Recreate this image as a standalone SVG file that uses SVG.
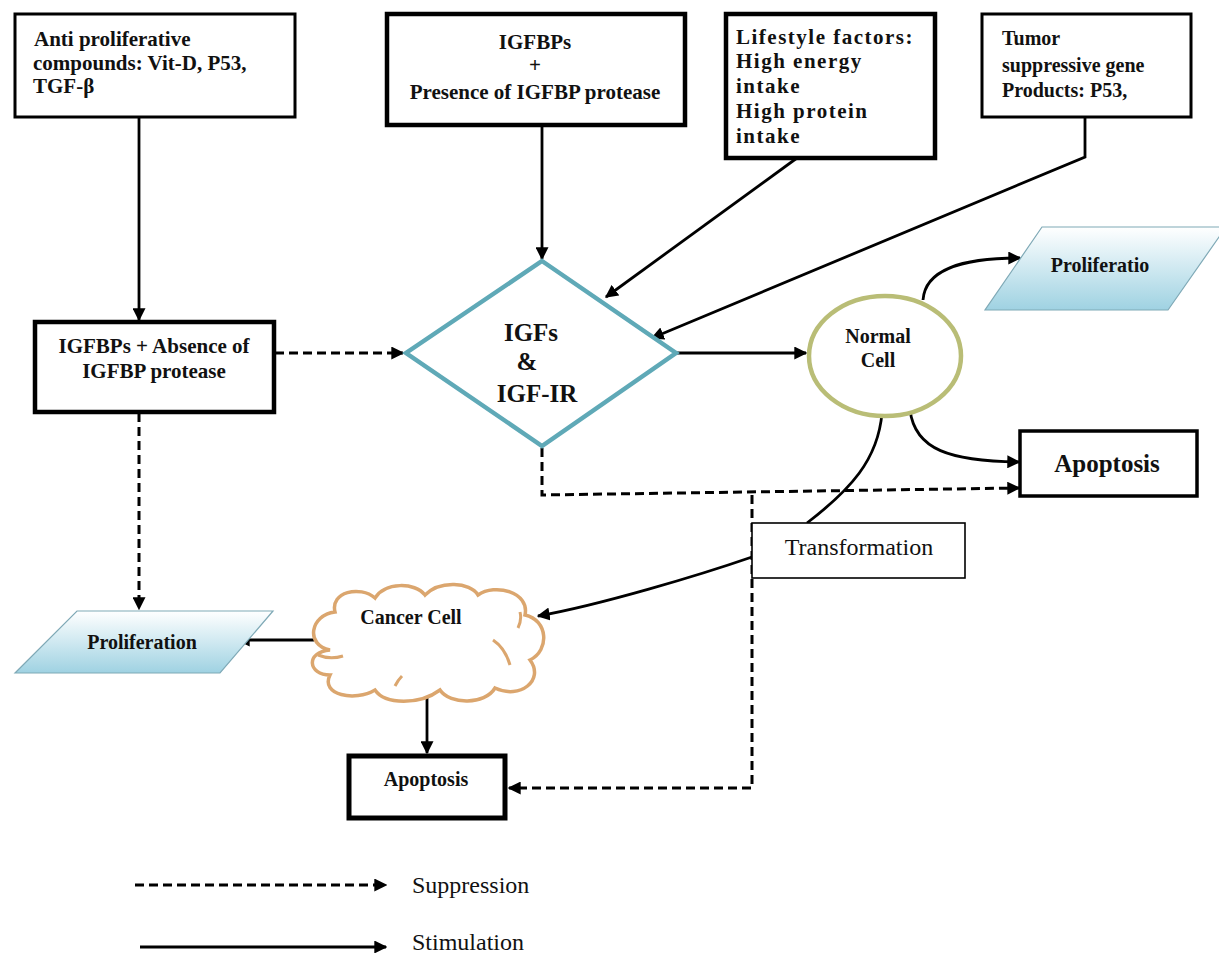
<svg xmlns="http://www.w3.org/2000/svg" width="1219" height="953" viewBox="0 0 1219 953">
<defs>
<marker id="ah" viewBox="0 0 10 10" refX="9" refY="5" markerWidth="13" markerHeight="13" markerUnits="userSpaceOnUse" orient="auto"><path d="M0,0 L10,5 L0,10 z" fill="#000"/></marker>
<linearGradient id="blue" x1="0" y1="0" x2="0" y2="1"><stop offset="0" stop-color="#ffffff"/><stop offset="1" stop-color="#9fd2e2"/></linearGradient>
</defs>
<style>
text{font-family:"Liberation Serif","Times New Roman",serif;fill:#111}
.b{font-weight:bold;font-size:20px}
.b21{font-weight:bold;font-size:21px}
.r{font-size:24px}
.box{fill:#fff;stroke:#000}
.ln{fill:none;stroke:#000;stroke-width:2.8}
.ds{fill:none;stroke:#000;stroke-width:3;stroke-dasharray:9 5}
.para{fill:url(#blue);stroke:#7fa9b6;stroke-width:1.2}
</style>
<rect width="1219" height="953" fill="#fff"/>

<g id="connectors">
<line class="ln" x1="139" y1="117" x2="139" y2="320" marker-end="url(#ah)"/>
<line class="ln" x1="542" y1="125" x2="542" y2="259" marker-end="url(#ah)"/>
<line class="ln" x1="797" y1="158" x2="606" y2="297" marker-end="url(#ah)"/>
<polyline class="ln" points="1085,117 1085,157 652,338" marker-end="url(#ah)"/>
<line class="ds" x1="275" y1="353" x2="403" y2="353" marker-end="url(#ah)"/>
<line class="ln" x1="676" y1="353" x2="806" y2="353" marker-end="url(#ah)"/>
<path class="ln" d="M923,300 C925,270 960,258 1020,258" marker-end="url(#ah)"/>
<path class="ln" d="M910,410 C915,450 950,461 1019,462" marker-end="url(#ah)"/>
<polyline class="ds" points="542,448 542,495 1019,488" marker-end="url(#ah)"/>
<path class="ln" d="M882,413 C878,460 850,490 807,523"/>
<path class="ln" d="M752,557 C700,575 600,605 538,616" marker-end="url(#ah)"/>
<line class="ds" x1="139" y1="413" x2="139" y2="609" marker-end="url(#ah)"/>
<line class="ln" x1="314" y1="640" x2="238" y2="640" marker-end="url(#ah)"/>
<line class="ln" x1="427" y1="698" x2="427" y2="753" marker-end="url(#ah)"/>
<polyline class="ds" points="752,495 752,788 509,788" marker-end="url(#ah)"/>
</g>

<g id="anti">
<rect class="box" x="15" y="14" width="280" height="103" stroke-width="3"/>
<text class="b21" x="34" y="46">Anti proliferative</text>
<text class="b21" x="33" y="70">compounds: Vit-D, P53,</text>
<text class="b21" x="33" y="93">TGF-β</text>
</g>

<g id="igfbp-presence">
<rect class="box" x="387" y="14" width="298" height="111" stroke-width="4.5"/>
<text class="b21" x="535" y="49" text-anchor="middle">IGFBPs</text>
<text class="b21" x="535" y="72" text-anchor="middle">+</text>
<text class="b21" x="535" y="99" text-anchor="middle">Presence of IGFBP protease</text>
</g>

<g id="lifestyle">
<rect class="box" x="726" y="14" width="209" height="144" stroke-width="4.5"/>
<g letter-spacing="1.5">
<text class="b21" x="736" y="44">Lifestyle factors:</text>
<text class="b21" x="736" y="68">High energy</text>
<text class="b21" x="736" y="93">intake</text>
<text class="b21" x="736" y="118">High protein</text>
<text class="b21" x="736" y="143">intake</text>
</g>
</g>

<g id="tumor">
<rect class="box" x="982" y="14" width="209" height="103" stroke-width="3"/>
<text class="b" x="1002" y="45">Tumor</text>
<text class="b" x="1002" y="72">suppressive gene</text>
<text class="b" x="1002" y="97">Products: P53,</text>
</g>

<g id="igfbp-absence">
<rect class="box" x="35" y="322" width="239" height="90" stroke-width="4.5"/>
<text class="b21" x="154" y="353" text-anchor="middle">IGFBPs + Absence of</text>
<text class="b21" x="154" y="378" text-anchor="middle">IGFBP protease</text>
</g>

<g id="igf">
<polygon points="542,261 676,353 542,446 406,353" fill="#fff" stroke="#5fa9b7" stroke-width="4.5"/>
<text x="531" y="341" text-anchor="middle" font-size="25" font-weight="bold">IGFs</text>
<text x="527" y="370" text-anchor="middle" font-size="25" font-weight="bold">&amp;</text>
<text x="537" y="402" text-anchor="middle" font-size="25" font-weight="bold">IGF-IR</text>
</g>

<g id="normal-cell">
<ellipse cx="885" cy="356" rx="76" ry="60" fill="#fff" stroke="#b9bd76" stroke-width="4.5"/>
<text class="b" x="878" y="343" text-anchor="middle">Normal</text>
<text class="b" x="878" y="367" text-anchor="middle">Cell</text>
</g>

<g id="proliferation-right">
<polygon class="para" points="1042,227 1226,227 1168,310 985,310"/>
<text class="b" x="1100" y="272" text-anchor="middle">Proliferatio</text>
</g>

<g id="apoptosis-right">
<rect class="box" x="1020" y="431" width="177" height="65" stroke-width="3.5"/>
<text x="1107" y="472" text-anchor="middle" font-size="25" font-weight="bold">Apoptosis</text>
</g>

<g id="transformation">
<rect class="box" x="752" y="523" width="213" height="55" stroke-width="1.6"/>
<text class="r" x="859" y="555" text-anchor="middle">Transformation</text>
</g>

<g id="cancer-cell">
<path d="M330,650 C305,645 310,615 335,612 C330,592 360,585 375,598 C385,582 415,582 425,595 C440,580 470,582 478,595 C495,583 530,592 525,615 C548,620 550,650 530,660 C545,680 520,700 495,688 C485,705 450,705 440,690 C420,705 385,705 375,690 C355,702 320,695 330,675 C308,675 305,652 330,650 Z" fill="#fff" stroke="#dba66e" stroke-width="3.5"/>
<path d="M318,655 Q330,660 343,656 M493,640 Q505,648 510,665 M395,686 Q398,680 402,676 M520,612 Q522,620 518,628" fill="none" stroke="#dba66e" stroke-width="3"/>
<text class="b" x="411" y="624" text-anchor="middle">Cancer Cell</text>
</g>

<g id="proliferation-left">
<polygon class="para" points="77,611 273,611 220,673 15,673"/>
<text class="b" x="142" y="649" text-anchor="middle">Proliferation</text>
</g>

<g id="apoptosis-bottom">
<rect class="box" x="349" y="756" width="156" height="62" stroke-width="5"/>
<text class="b" x="426" y="786" text-anchor="middle">Apoptosis</text>
</g>

<g id="legend">
<line class="ds" x1="135" y1="885" x2="386" y2="885" marker-end="url(#ah)"/>
<text class="r" x="412" y="893">Suppression</text>
<line class="ln" x1="140" y1="947" x2="386" y2="947" marker-end="url(#ah)"/>
<text class="r" x="412" y="950">Stimulation</text>
</g>
</svg>
